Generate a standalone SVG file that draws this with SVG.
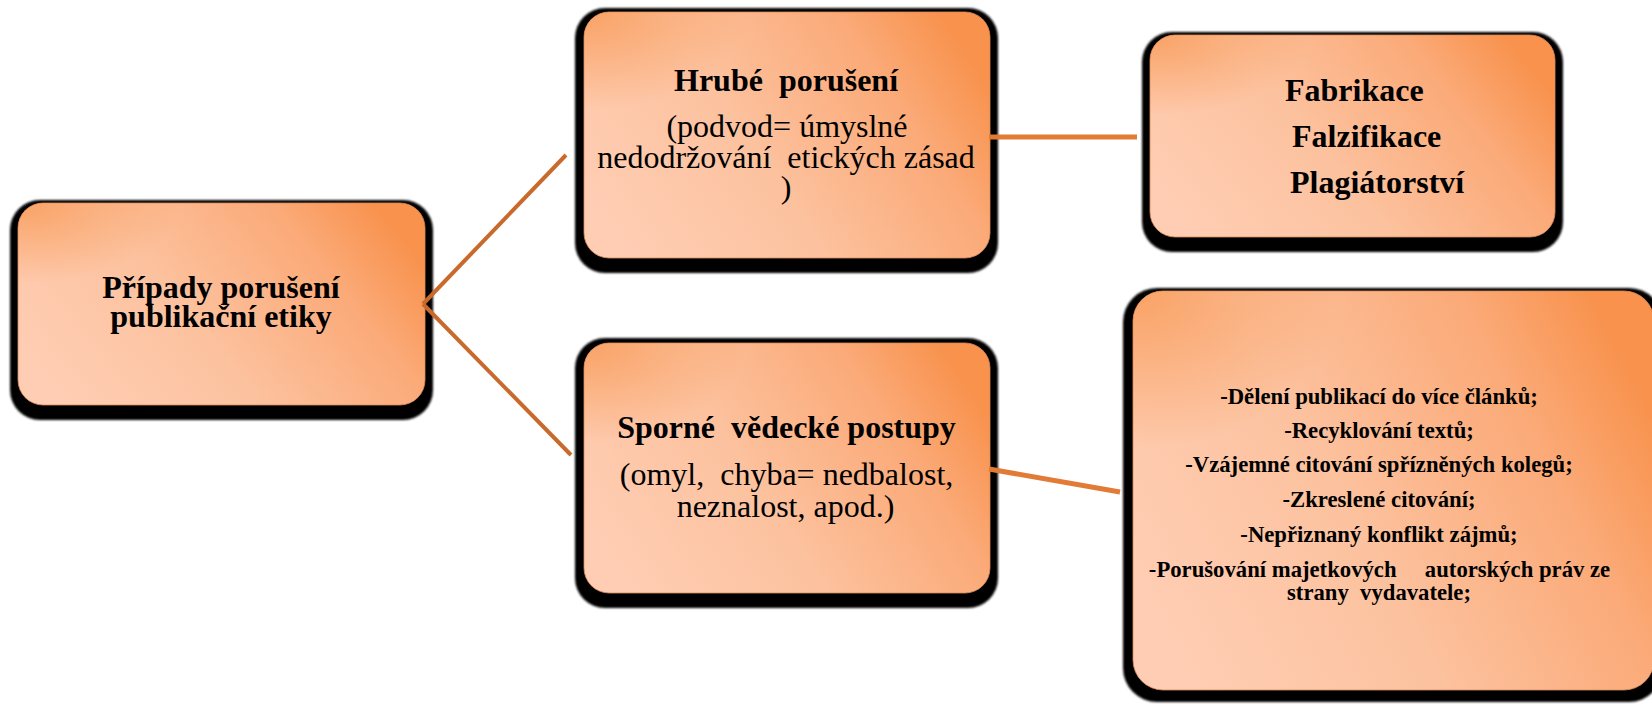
<svg xmlns="http://www.w3.org/2000/svg" width="1652" height="706" viewBox="0 0 1652 706">
<style>
.shadow{fill:#000;filter:url(#soft)}
.box{fill:url(#g1);stroke:#d98a5a;stroke-width:0.8}
.ov{fill:url(#g2)}
text{font-family:"Liberation Serif","Times New Roman",serif;fill:#000}
.b{font-weight:bold;font-size:32px}
.r{font-size:32px}
.s{font-weight:bold;font-size:22.7px}
.c1{stroke:#C96A2C;stroke-width:4;fill:none}
.c2{stroke:#E27B36;stroke-width:5;fill:none}
</style>
<defs>
<filter id="soft" x="-5%" y="-5%" width="110%" height="110%"><feGaussianBlur stdDeviation="0.8"/></filter>
<linearGradient id="g1" x1="0" y1="0.7" x2="1" y2="0.3">
<stop offset="0" stop-color="#FFCDB3"/>
<stop offset="0.4" stop-color="#FCC29F"/>
<stop offset="0.78" stop-color="#FBAA78"/>
<stop offset="1" stop-color="#F8924D"/>
</linearGradient>
<radialGradient id="g2" cx="0" cy="0" r="0.4">
<stop offset="0" stop-color="#F8964F" stop-opacity="0.75"/>
<stop offset="1" stop-color="#F8964F" stop-opacity="0"/>
</radialGradient>
</defs>

<g id="node-pripady">
<rect class="shadow" x="10" y="200" width="423" height="220" rx="30"/>
<rect class="box" x="18" y="203" width="407" height="202" rx="25"/>
<rect class="ov" x="18" y="203" width="407" height="202" rx="25"/>
<text class="b" x="221" y="298" text-anchor="middle">Případy porušení</text>
<text class="b" x="221" y="327" text-anchor="middle">publikační etiky</text>
</g>

<g id="node-hrube">
<rect class="shadow" x="575" y="8" width="423" height="265" rx="30"/>
<rect class="box" x="584" y="12" width="406" height="246" rx="25"/>
<rect class="ov" x="584" y="12" width="406" height="246" rx="25"/>
<text class="b" x="786" y="91" text-anchor="middle" xml:space="preserve">Hrubé  porušení</text>
<text class="r" x="787" y="137" text-anchor="middle">(podvod= úmyslné</text>
<text class="r" x="786" y="168" text-anchor="middle" xml:space="preserve">nedodržování  etických zásad</text>
<text class="r" x="786" y="198" text-anchor="middle">)</text>
</g>

<g id="node-fabrikace">
<rect class="shadow" x="1142" y="32" width="421" height="220" rx="30"/>
<rect class="box" x="1150" y="35" width="405" height="202" rx="25"/>
<rect class="ov" x="1150" y="35" width="405" height="202" rx="25"/>
<text class="b" x="1285" y="101">Fabrikace</text>
<text class="b" x="1292" y="147">Falzifikace</text>
<text class="b" x="1290" y="193">Plagiátorství</text>
</g>

<g id="node-sporne">
<rect class="shadow" x="575" y="338" width="423" height="270" rx="30"/>
<rect class="box" x="584" y="343" width="406" height="250" rx="25"/>
<rect class="ov" x="584" y="343" width="406" height="250" rx="25"/>
<text class="b" x="786.5" y="438" text-anchor="middle" xml:space="preserve">Sporné  vědecké postupy</text>
<text class="r" x="786.5" y="485" text-anchor="middle" xml:space="preserve">(omyl,  chyba= nedbalost,</text>
<text class="r" x="785.5" y="517" text-anchor="middle">neznalost, apod.)</text>
</g>

<g id="node-list">
<rect class="shadow" x="1123" y="288" width="540" height="414" rx="34"/>
<rect class="box" x="1133" y="291" width="521" height="399" rx="30"/>
<rect class="ov" x="1133" y="291" width="521" height="399" rx="30"/>
<text class="s" x="1379" y="404" text-anchor="middle">-Dělení publikací do více článků;</text>
<text class="s" x="1379" y="438" text-anchor="middle">-Recyklování textů;</text>
<text class="s" x="1379" y="472" text-anchor="middle">-Vzájemné citování spřízněných kolegů;</text>
<text class="s" x="1379" y="507" text-anchor="middle">-Zkreslené citování;</text>
<text class="s" x="1379" y="542" text-anchor="middle">-Nepřiznaný konflikt zájmů;</text>
<text class="s" x="1379.5" y="577" text-anchor="middle" xml:space="preserve">-Porušování majetkových     autorských práv ze</text>
<text class="s" x="1379" y="600" text-anchor="middle" xml:space="preserve">strany  vydavatele;</text>
</g>

<g id="connectors">
<line class="c1" x1="423" y1="304" x2="566" y2="155"/>
<line class="c1" x1="423" y1="304" x2="571" y2="455"/>
<line class="c2" x1="989" y1="137" x2="1137" y2="137"/>
<line class="c2" x1="989" y1="469" x2="1120" y2="492"/>
</g>
</svg>
